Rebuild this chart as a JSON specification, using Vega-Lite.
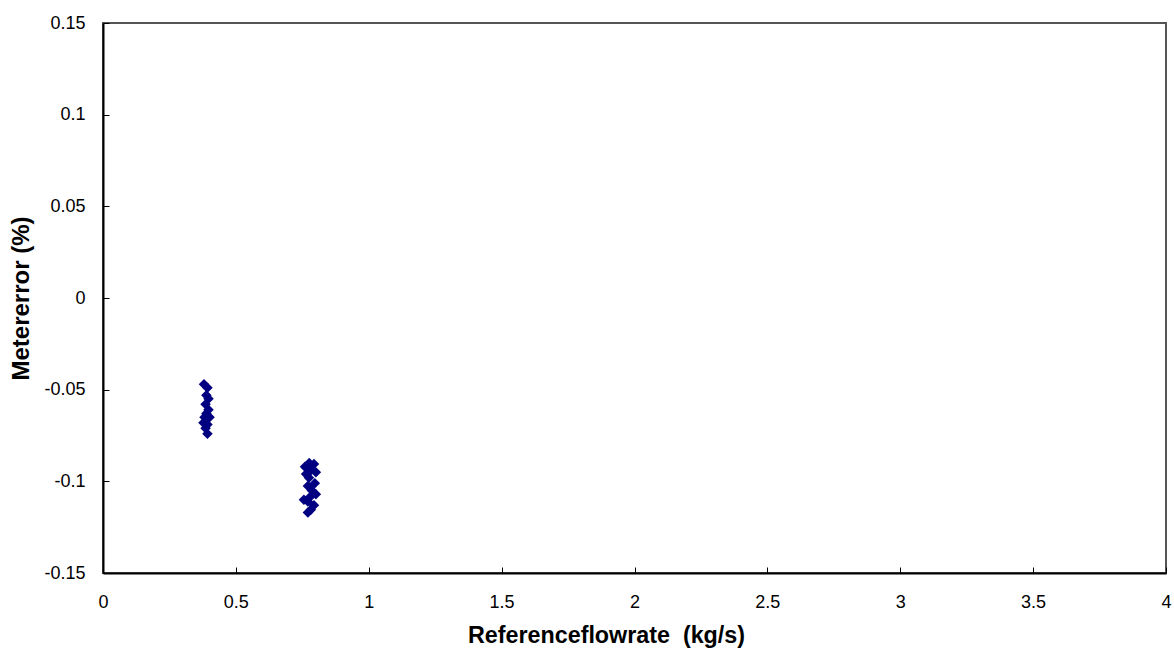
{
  "$schema": "https://vega.github.io/schema/vega-lite/v6.json",
  "autosize": {"type": "none"},
  "padding": {"left": 103, "top": 23, "right": 8, "bottom": 75},
  "width": 1063,
  "height": 550,
  "background": "white",
  "config": {
    "view": {"stroke": "#555555", "strokeWidth": 2},
    "axis": {
      "grid": false,
      "domainColor": "black",
      "domainWidth": 2,
      "tickColor": "black",
      "tickSize": -6,
      "tickWidth": 1,
      "labelFont": "Liberation Sans",
      "labelFontSize": 18,
      "labelColor": "black",
      "titleFont": "Liberation Sans",
      "titleFontWeight": "bold",
      "titleColor": "black"
    }
  },
  "data": {
    "values": [
      {"flow": 0.380, "error": -0.047},
      {"flow": 0.393, "error": -0.049},
      {"flow": 0.389, "error": -0.053},
      {"flow": 0.397, "error": -0.055},
      {"flow": 0.386, "error": -0.058},
      {"flow": 0.397, "error": -0.061},
      {"flow": 0.389, "error": -0.063},
      {"flow": 0.382, "error": -0.065},
      {"flow": 0.401, "error": -0.065},
      {"flow": 0.378, "error": -0.068},
      {"flow": 0.393, "error": -0.069},
      {"flow": 0.386, "error": -0.071},
      {"flow": 0.393, "error": -0.074},
      {"flow": 0.776, "error": -0.090},
      {"flow": 0.794, "error": -0.0905},
      {"flow": 0.760, "error": -0.092},
      {"flow": 0.783, "error": -0.094},
      {"flow": 0.801, "error": -0.095},
      {"flow": 0.764, "error": -0.096},
      {"flow": 0.775, "error": -0.098},
      {"flow": 0.797, "error": -0.101},
      {"flow": 0.771, "error": -0.1025},
      {"flow": 0.786, "error": -0.105},
      {"flow": 0.801, "error": -0.107},
      {"flow": 0.779, "error": -0.1085},
      {"flow": 0.756, "error": -0.110},
      {"flow": 0.771, "error": -0.111},
      {"flow": 0.794, "error": -0.113},
      {"flow": 0.782, "error": -0.1155},
      {"flow": 0.771, "error": -0.117}
    ]
  },
  "mark": {"type": "point", "shape": "diamond", "filled": true, "color": "#000080", "opacity": 1, "size": 110},
  "encoding": {
    "x": {
      "field": "flow",
      "type": "quantitative",
      "title": "Referenceflowrate\u00a0\u00a0(kg/s)",
      "scale": {"domain": [0, 4], "nice": false, "zero": false},
      "axis": {"values": [0, 0.5, 1, 1.5, 2, 2.5, 3, 3.5, 4], "labelExpr": "replace(format(datum.value, '~g'), '\u2212', '-')", "labelPadding": 26, "titlePadding": 13, "titleFontSize": 23.3, "titleX": 503, "labelFlush": false, "labelOverlap": false}
    },
    "y": {
      "field": "error",
      "type": "quantitative",
      "title": "Metererror (%)",
      "scale": {"domain": [-0.15, 0.15], "nice": false, "zero": false},
      "axis": {"values": [-0.15, -0.1, -0.05, 0, 0.05, 0.1, 0.15], "labelExpr": "replace(format(datum.value, '~g'), '\u2212', '-')", "labelPadding": 24, "titlePadding": 10, "titleFontSize": 24, "labelFlush": false, "labelOverlap": false}
    }
  }
}
